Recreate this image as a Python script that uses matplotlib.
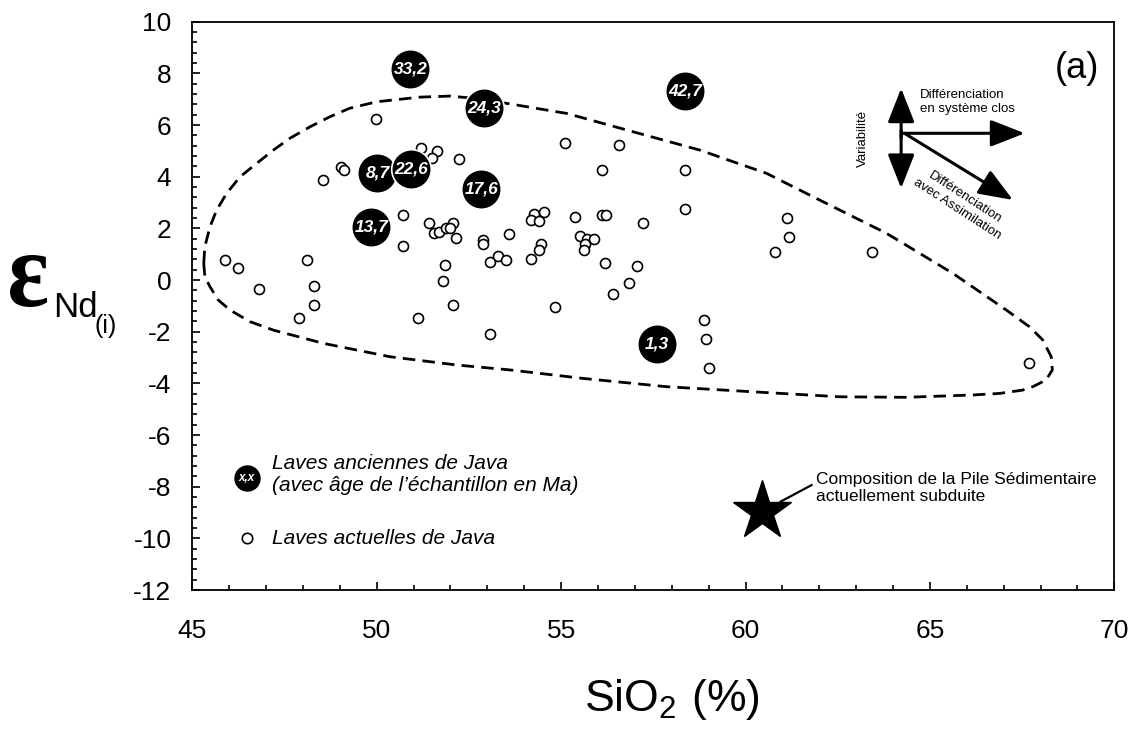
import matplotlib
matplotlib.use("Agg")
import matplotlib.pyplot as plt
from matplotlib.ticker import MultipleLocator
from matplotlib.textpath import TextPath
from matplotlib.patches import PathPatch
from matplotlib.font_manager import FontProperties
from matplotlib.transforms import Affine2D, IdentityTransform

plt.rcParams['font.family'] = ['Liberation Sans', 'DejaVu Sans']
plt.rcParams['axes.unicode_minus'] = False
plt.rcParams['mathtext.fontset'] = 'custom'
plt.rcParams['mathtext.rm'] = 'Liberation Sans'

# present-day Java lavas (SiO2 %, eNd(i))
recent_sio2 = [49.99, 51.21, 51.64, 51.49, 52.22, 49.03, 49.12, 48.55, 50.71, 51.41,
               52.08, 51.56, 51.69, 51.87, 52.00, 52.16, 52.88, 52.88, 53.60, 50.71,
               45.88, 46.24, 46.80, 48.10, 48.31, 48.31, 47.88, 51.86, 51.79, 52.07,
               51.13, 53.08, 53.30, 53.51, 53.08, 55.11, 56.56, 56.11, 58.36, 58.36,
               61.12, 61.19, 60.81, 54.27, 54.53, 54.18, 54.40, 54.46, 54.40, 54.18,
               55.39, 56.11, 56.21, 57.21, 55.52, 55.71, 55.90, 55.66, 55.61, 56.19,
               57.06, 56.85, 56.42, 54.83, 58.87, 58.94, 59.00, 63.43, 67.69]
recent_end = [6.22, 5.13, 5.00, 4.74, 4.68, 4.38, 4.27, 3.87, 2.53, 2.22,
              2.22, 1.83, 1.86, 2.03, 2.01, 1.63, 1.54, 1.38, 1.80, 1.31,
              0.77, 0.46, -0.36, 0.77, -0.22, -0.95, -1.47, 0.59, -0.04, -0.95,
              -1.47, 0.68, 0.92, 0.79, -2.10, 5.30, 5.22, 4.27, 4.27, 2.73,
              2.41, 1.68, 1.09, 2.54, 2.65, 2.31, 2.28, 1.41, 1.17, 0.80,
              2.44, 2.53, 2.53, 2.22, 1.70, 1.59, 1.60, 1.41, 1.18, 0.65,
              0.56, -0.13, -0.54, -1.06, -1.56, -2.30, -3.42, 1.08, -3.23]

# old Java lavas with age in Ma
old_sio2 = [50.91, 52.92, 58.36, 50.02, 50.94, 52.84, 49.85, 57.60]
old_end = [8.15, 6.65, 7.31, 4.15, 4.31, 3.54, 2.04, -2.46]
old_age = ['33,2', '24,3', '42,7', '8,7', '22,6', '17,6', '13,7', '1,3']

# subducted sediment pile
sed_sio2 = [60.45]
sed_end = [-8.96]

# dashed field of present-day lavas
field_sio2 = [45.31, 45.34, 45.48, 45.66, 45.93, 46.29, 46.75, 47.20, 47.65, 48.19,
              48.73, 49.27, 50.00, 51.17, 51.98, 52.53, 53.52, 55.15, 56.95, 58.76,
              60.57, 61.92, 63.82, 65.62, 67.07, 67.70, 68.06, 68.29, 68.32, 68.15,
              67.79, 67.52, 66.89, 66.17, 64.36, 62.55, 60.11, 57.86, 55.60, 53.61,
              52.17, 50.36, 48.55, 47.20, 46.56, 46.02, 45.70, 45.48, 45.34, 45.31]
field_end = [0.65, 1.29, 2.06, 2.71, 3.35, 3.99, 4.52, 5.03, 5.49, 5.93,
             6.32, 6.65, 6.90, 7.08, 7.12, 7.05, 6.84, 6.45, 5.74, 5.03,
             4.13, 3.16, 1.81, 0.26, -1.16, -1.81, -2.32, -2.97, -3.48, -3.87,
             -4.13, -4.26, -4.39, -4.45, -4.54, -4.52, -4.32, -4.13, -3.81, -3.48,
             -3.29, -2.97, -2.45, -1.94, -1.61, -1.16, -0.77, -0.26, 0.13, 0.65]

fig = plt.figure(figsize=(11.35, 7.4), dpi=100)
ax = fig.add_axes([192.3 / 1135, 1 - 590 / 740, (1114.3 - 192.3) / 1135, (590 - 21.7) / 740])

ax.plot(field_sio2, field_end, color='black', lw=2.0, linestyle=(0, (4.5, 2.6)), zorder=2)
ax.plot(recent_sio2, recent_end, linestyle='none', marker='o', ms=7.2, mfc='white',
        mec='black', mew=1.2, zorder=3)

for x, y, age in zip(old_sio2, old_end, old_age):
    ax.plot(x, y, marker='o', ms=28.5, mfc='black', mec='white', mew=1.2, zorder=4)
    ax.text(x, y, age, color='white', fontsize=12.5, fontweight='bold', style='italic',
            ha='center', va='center', zorder=5)

ax.plot(sed_sio2, sed_end, marker='*', ms=44, color='black', linestyle='none', zorder=4)
ax.plot([60.95, 61.79], [-8.58, -7.94], color='black', lw=1.6)
ax.text(61.92, -8.05, "Composition de la Pile Sédimentaire\nactuellement subduite",
        fontsize=12.5, ha='left', va='center', linespacing=1.2)

# legend drawn by hand
ax.plot(46.47, -7.68, marker='o', ms=18, mfc='black', mec='black')
ax.text(46.47, -7.68, 'x,x', color='white', fontsize=8.5, fontweight='bold', style='italic',
        ha='center', va='center')
ax.plot(46.47, -10.0, marker='o', ms=7.5, mfc='white', mec='black', mew=1.2)
ax.text(47.15, -7.52, "Laves anciennes de Java\n(avec âge de l’échantillon en Ma)",
        fontsize=15, style='italic', ha='left', va='center', linespacing=1.2)
ax.text(47.15, -9.99, "Laves actuelles de Java", fontsize=15, style='italic',
        ha='left', va='center')

# arrow sketch
arrow = dict(arrowstyle='-|>,head_length=1.4,head_width=0.55', color='black', lw=2.2,
             mutation_scale=15, shrinkA=0, shrinkB=0)
ax.annotate('', xy=(67.57, 5.68), xytext=(64.22, 5.68), arrowprops=arrow)
ax.annotate('', xy=(67.25, 3.10), xytext=(64.31, 5.68), arrowprops=arrow)
ax.annotate('', xy=(64.22, 7.42), xytext=(64.22, 5.5), arrowprops=arrow)
ax.annotate('', xy=(64.22, 3.55), xytext=(64.22, 5.8), arrowprops=arrow)
ax.text(64.72, 6.9, "Différenciation\nen système clos", fontsize=9.5, ha='left', va='center',
        linespacing=1.25)
ax.text(63.18, 5.5, "Variabilité", fontsize=9.5, rotation=90, ha='center', va='center')
ax.text(65.85, 2.98, "Différenciation\navec Assimilation", fontsize=9.5, rotation=-33,
        rotation_mode='anchor', ha='center', va='center', linespacing=1.15)

ax.text(69.0, 8.2, "(a)", fontsize=26, ha='center', va='center')

ax.set_xlim(45, 70)
ax.set_ylim(-12, 10)
ax.xaxis.set_major_locator(MultipleLocator(5))
ax.xaxis.set_minor_locator(MultipleLocator(1))
ax.yaxis.set_major_locator(MultipleLocator(2))
ax.yaxis.set_minor_locator(MultipleLocator(0.4))
ax.tick_params(which='both', direction='in', width=1.2, labelsize=19)
ax.tick_params(axis='x', which='major', length=6, pad=21)
ax.tick_params(axis='y', which='major', length=6, pad=15)
ax.tick_params(which='minor', length=3.5)
ax.tick_params(top=False, right=False)
for s in ax.spines.values():
    s.set_linewidth(1.3)

# axis titles
fig.text(672 / 1135, 1 - 700 / 740, r'$\mathrm{SiO_2\ (\%)}$', fontsize=32,
         ha='center', va='center')

# big epsilon, fitted into its box (pixels, from the bottom)
eps = TextPath((0, 0), 'ε', size=100, prop=FontProperties(family='Liberation Serif', weight='bold'))
ext = eps.get_extents()
x0, x1, y0, y1 = 10, 47, 740 - 307, 740 - 255
tr = (Affine2D().translate(-ext.x0, -ext.y0)
      .scale((x1 - x0) / ext.width, (y1 - y0) / ext.height)
      .translate(x0, y0))
fig.patches.append(PathPatch(tr.transform_path(eps), facecolor='black', edgecolor='none',
                             transform=IdentityTransform(), figure=fig))
fig.text(53 / 1135, 1 - 317 / 740, 'Nd', fontsize=25, ha='left', va='baseline')
fig.text(94 / 1135, 1 - 333 / 740, '(i)', fontsize=18, ha='left', va='baseline')

fig.savefig('out.png', dpi=100)
